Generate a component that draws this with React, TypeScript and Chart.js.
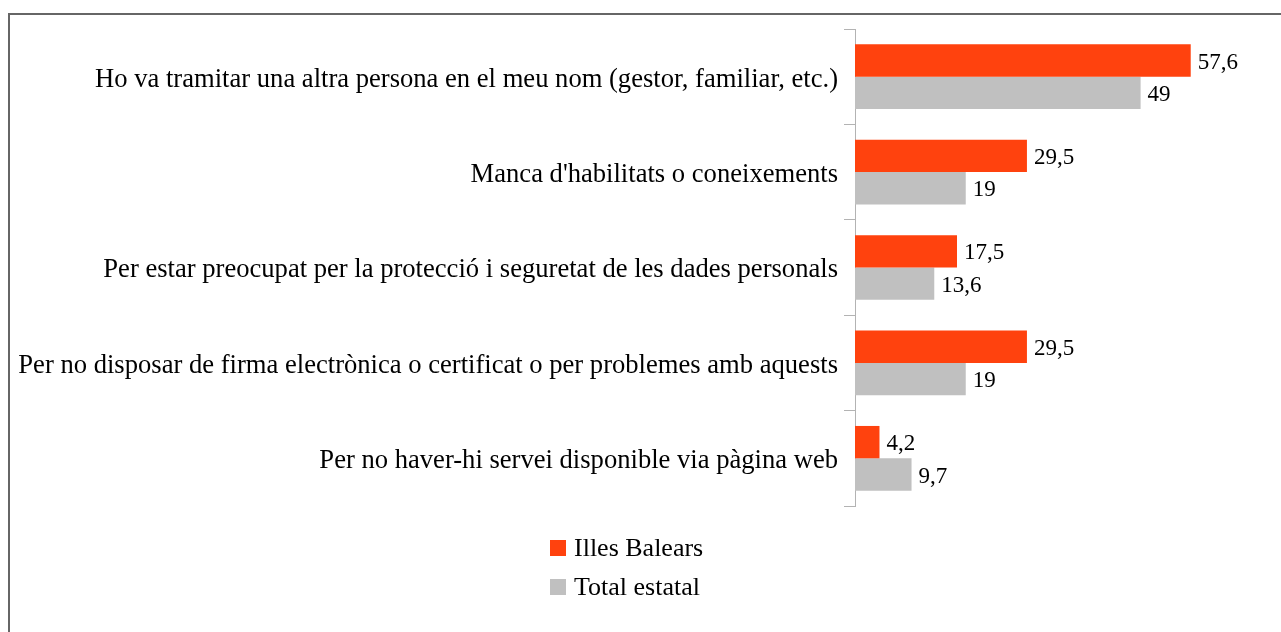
import React, { useEffect, useRef } from "react";
import { Chart, registerables } from "chart.js";

Chart.register(...registerables);

const categories = [
  "Ho va tramitar una altra persona en el meu nom (gestor, familiar, etc.)",
  "Manca d'habilitats o coneixements",
  "Per estar preocupat per la protecció i seguretat de les dades personals",
  "Per no disposar de firma electrònica o certificat o per problemes amb aquests",
  "Per no haver-hi servei disponible via pàgina web",
];
const balearsValues = [57.6, 29.5, 17.5, 29.5, 4.2];
const estatalValues = [49, 19, 13.6, 19, 9.7];
const seriesNames = ["Illes Balears", "Total estatal"];
const seriesColors = ["#FF420E", "#C0C0C0"];

const FONT = "'Liberation Serif', 'Times New Roman', serif";

const dataLabelPlugin = {
  id: "dataLabels",
  afterDatasetsDraw(chart: any) {
    const ctx = chart.ctx;
    ctx.save();
    ctx.font = `23px ${FONT}`;
    ctx.fillStyle = "#000";
    ctx.textAlign = "left";
    ctx.textBaseline = "middle";
    chart.data.datasets.forEach((ds: any, di: number) => {
      const meta = chart.getDatasetMeta(di);
      meta.data.forEach((bar: any, i: number) => {
        const v = ds.data[i];
        const txt = String(v).replace(".", ",");
        ctx.fillText(txt, bar.x + 7, bar.y + 2);
      });
    });
    ctx.restore();
  },
};

export default function App() {
  const ref = useRef<HTMLCanvasElement>(null);
  useEffect(() => {
    if (!ref.current) return;
    const chart = new Chart(ref.current, {
      type: "bar",
      data: {
        labels: categories,
        datasets: [
          {
            label: seriesNames[0],
            data: balearsValues,
            backgroundColor: seriesColors[0],
            categoryPercentage: 0.678,
            barPercentage: 1.0,
          },
          {
            label: seriesNames[1],
            data: estatalValues,
            backgroundColor: seriesColors[1],
            categoryPercentage: 0.678,
            barPercentage: 1.0,
          },
        ],
      },
      options: {
        indexAxis: "y",
        animation: false,
        responsive: false,
        maintainAspectRatio: false,
        layout: { padding: { top: 29, bottom: 126, right: 18, left: 8 } },
        plugins: {
          legend: { display: false },
          tooltip: { enabled: false },
        },
        scales: {
          x: {
            display: false,
            min: 0,
            max: 70,
          },
          y: {
            afterFit: (s: any) => {
              s.width = 847;
            },
            border: { display: true, color: "#b3b3b3", width: 1 },
            grid: {
              offset: true,
              drawOnChartArea: false,
              drawTicks: true,
              tickLength: 11,
              color: "#b3b3b3",
            },
            ticks: {
              color: "#000",
              padding: 6,
              labelOffset: 3,
              font: { family: FONT, size: 26.6 },
            },
          },
        },
      },
      plugins: [dataLabelPlugin],
    });
    return () => chart.destroy();
  }, []);

  return (
    <div style={{ position: "fixed", inset: 0, overflow: "hidden", background: "#fff" }}>
      <div
        style={{
          position: "absolute",
          left: 8,
          top: 13,
          width: 1300,
          height: 700,
          borderTop: "2px solid #666",
          borderLeft: "2px solid #666",
        }}
      />
      <canvas
        ref={ref}
        width={1281}
        height={632}
        style={{ position: "absolute", left: 0, top: 0, width: 1281, height: 632 }}
      />
      <div
        style={{
          position: "absolute",
          left: 550,
          top: 528,
          fontFamily: FONT,
          fontSize: 26,
          color: "#000",
        }}
      >
        {seriesNames.map((n, i) => (
          <div key={n} style={{ display: "flex", alignItems: "center", height: 39 }}>
            <span
              style={{
                display: "inline-block",
                width: 16,
                height: 16,
                background: seriesColors[i],
                marginRight: 8,
              }}
            />
            <span>{n}</span>
          </div>
        ))}
      </div>
    </div>
  );
}
